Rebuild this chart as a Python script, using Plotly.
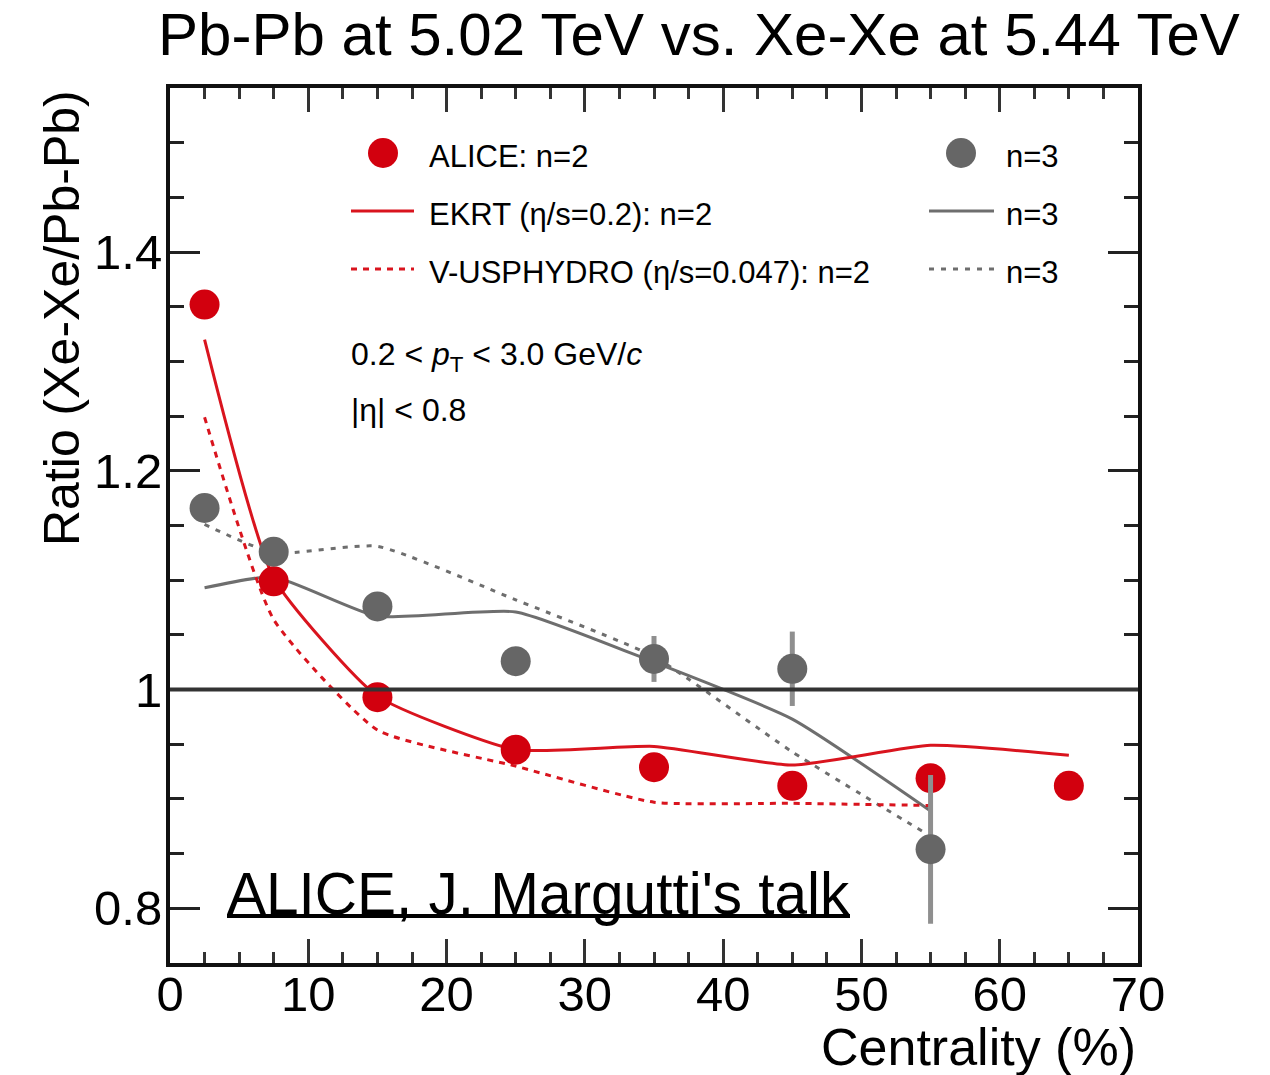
import plotly.graph_objects as go

# Centrality bins (%)
centrality = [2.5, 7.5, 15, 25, 35, 45, 55, 65]
centrality_n3 = [2.5, 7.5, 15, 25, 35, 45, 55]

# ALICE measured ratios Xe-Xe / Pb-Pb
alice_n2 = [1.352, 1.099, 0.993, 0.945, 0.929, 0.912, 0.919, 0.912]
alice_n3 = [1.166, 1.126, 1.076, 1.026, 1.028, 1.019, 0.854]
alice_n3_err = [0.012, 0.008, 0.008, 0.008, 0.021, 0.034, 0.068]

# Model predictions
ekrt_n2 = [1.320, 1.102, 0.994, 0.945, 0.948, 0.931, 0.949, 0.940]
vusp_n2 = [1.249, 1.064, 0.963, 0.930, 0.897, 0.896, 0.894]
ekrt_n3 = [1.093, 1.103, 1.067, 1.071, 1.025, 0.973, 0.889]
vusp_n3 = [1.151, 1.125, 1.131, 1.082, 1.030, 0.943, 0.866]

x_ticks = [0, 10, 20, 30, 40, 50, 60, 70]
y_ticks = [0.8, 1.0, 1.2, 1.4]
y_tick_text = ["0.8", "1", "1.2", "1.4"]

legend_left = ["ALICE: n=2", "EKRT (η/s=0.2): n=2", "V-USPHYDRO (η/s=0.047): n=2"]
legend_right = ["n=3", "n=3", "n=3"]

RED = "#d2000e"
RED_LINE = "#d9141e"
GREY = "#666666"
GREY_LINE = "#6e6e6e"
FONT = "Liberation Sans, Arial, sans-serif"

W, H = 1270, 1075
L, R, T, B = 170, 132, 88, 112
PW, PH = W - L - R, H - T - B


def px(xpix):
    return (xpix - L) / PW


def py(ypix):
    return (H - B - ypix) / PH


fig = go.Figure()

# model curves
fig.add_trace(go.Scatter(x=centrality_n3, y=vusp_n3, mode="lines",
                         line=dict(color=GREY_LINE, width=3, dash="5px,7px", shape="spline", smoothing=0.5)))
fig.add_trace(go.Scatter(x=centrality_n3, y=ekrt_n3, mode="lines",
                         line=dict(color=GREY_LINE, width=3, shape="spline", smoothing=0.5)))
fig.add_trace(go.Scatter(x=centrality_n3, y=vusp_n2, mode="lines",
                         line=dict(color=RED_LINE, width=3, dash="6px,6px", shape="spline", smoothing=0.5)))
fig.add_trace(go.Scatter(x=centrality, y=ekrt_n2, mode="lines",
                         line=dict(color=RED_LINE, width=3, shape="spline", smoothing=0.5)))

# data points
fig.add_trace(go.Scatter(x=centrality, y=alice_n2, mode="markers",
                         marker=dict(color=RED, size=30, line=dict(width=0))))
fig.add_trace(go.Scatter(x=centrality_n3, y=alice_n3, mode="markers",
                         marker=dict(color=GREY, size=30, line=dict(width=0)),
                         error_y=dict(type="data", array=alice_n3_err, visible=True,
                                      color="#8f8f8f", thickness=5, width=0)))

fig.update_traces(showlegend=False, hoverinfo="skip")

# unity reference line
shapes = [dict(type="line", xref="paper", x0=0, x1=1, yref="y", y0=1, y1=1,
               line=dict(color="#333333", width=4), layer="above")]

# legend keys
row_y = [153, 211, 269]
for cx, col in [(383, RED), (961, GREY)]:
    shapes.append(dict(type="circle", xref="paper", yref="paper",
                       xsizemode="pixel", ysizemode="pixel",
                       xanchor=px(cx), yanchor=py(row_y[0]),
                       x0=-15, x1=15, y0=-15, y1=15,
                       fillcolor=col, line=dict(width=0)))
for (x0, x1, col) in [(351, 414, RED_LINE), (929, 994, GREY_LINE)]:
    shapes.append(dict(type="line", xref="paper", yref="paper",
                       x0=px(x0), x1=px(x1), y0=py(row_y[1]), y1=py(row_y[1]),
                       line=dict(color=col, width=3)))
    shapes.append(dict(type="line", xref="paper", yref="paper",
                       x0=px(x0), x1=px(x1), y0=py(row_y[2]), y1=py(row_y[2]),
                       line=dict(color=col, width=3,
                                 dash="6px,6px" if col == RED_LINE else "5px,7px")))

# underline of the credit line
shapes.append(dict(type="line", xref="paper", yref="paper",
                   x0=px(227), x1=px(850), y0=py(916), y1=py(916),
                   line=dict(color="black", width=4)))

annotations = []
text_rows = [156, 214, 272]
for label, yy in zip(legend_left, text_rows):
    annotations.append(dict(text=label, xref="paper", yref="paper", x=px(427), y=py(yy),
                            xanchor="left", yanchor="middle", showarrow=False,
                            font=dict(size=31, color="black", family=FONT)))
for label, yy in zip(legend_right, text_rows):
    annotations.append(dict(text=label, xref="paper", yref="paper", x=px(1004), y=py(yy),
                            xanchor="left", yanchor="middle", showarrow=False,
                            font=dict(size=31, color="black", family=FONT)))

# kinematic selection
annotations.append(dict(text="0.2 &lt; <i>p</i><sub>T</sub> &lt; 3.0 GeV/<i>c</i>",
                        xref="paper", yref="paper", x=px(349), y=py(356),
                        xanchor="left", yanchor="middle", showarrow=False,
                        font=dict(size=32, color="black", family=FONT)))
annotations.append(dict(text="|η| &lt; 0.8",
                        xref="paper", yref="paper", x=px(349), y=py(410),
                        xanchor="left", yanchor="middle", showarrow=False,
                        font=dict(size=32, color="black", family=FONT)))

# credit line
annotations.append(dict(text="ALICE, J. Margutti's talk",
                        xref="paper", yref="paper", x=px(225), y=py(893),
                        xanchor="left", yanchor="middle", showarrow=False,
                        font=dict(size=58.5, color="black", family=FONT)))

# axis titles
annotations.append(dict(text="Ratio (Xe-Xe/Pb-Pb)", textangle=-90,
                        xref="paper", yref="paper", x=px(62), y=py(88),
                        xanchor="center", yanchor="top", showarrow=False,
                        font=dict(size=50, color="black", family=FONT)))
annotations.append(dict(text="Centrality (%)",
                        xref="paper", yref="paper", x=1, y=py(1047),
                        xanchor="right", yanchor="middle", showarrow=False,
                        font=dict(size=52, color="black", family=FONT)))

fig.update_layout(
    width=W, height=H,
    margin=dict(l=L, r=R, t=T, b=B),
    paper_bgcolor="white", plot_bgcolor="white",
    font=dict(family=FONT, color="black"),
    title=dict(text="Pb-Pb at 5.02 TeV vs. Xe-Xe at 5.44 TeV",
               xref="container", yref="container",
               x=699 / W, xanchor="center", y=1 - 34 / H, yanchor="middle",
               font=dict(size=60, color="black", family=FONT)),
    shapes=shapes,
    annotations=annotations,
    showlegend=False,
)

fig.update_xaxes(range=[0, 70], tickvals=x_ticks, ticks="inside", ticklen=24, tickwidth=2.5,
                 tickcolor="#333333", showline=True, linewidth=4, linecolor="#111111",
                 mirror="allticks", showgrid=False, zeroline=False, ticklabelstandoff=-15,
                 tickfont=dict(size=49, color="black", family=FONT),
                 minor=dict(dtick=2.5, ticks="inside", ticklen=11, tickwidth=2.5, tickcolor="#333333"))
fig.update_yaxes(range=[0.75, 1.55], tickvals=y_ticks, ticktext=y_tick_text, ticks="inside",
                 ticklen=30, tickwidth=3, tickcolor="#222222", showline=True, linewidth=4,
                 linecolor="#111111", mirror="allticks", showgrid=False, zeroline=False,
                 ticklabelstandoff=-6,
                 tickfont=dict(size=49, color="black", family=FONT),
                 minor=dict(dtick=0.05, ticks="inside", ticklen=14, tickwidth=3, tickcolor="#222222"))

fig.write_html("out.html")
